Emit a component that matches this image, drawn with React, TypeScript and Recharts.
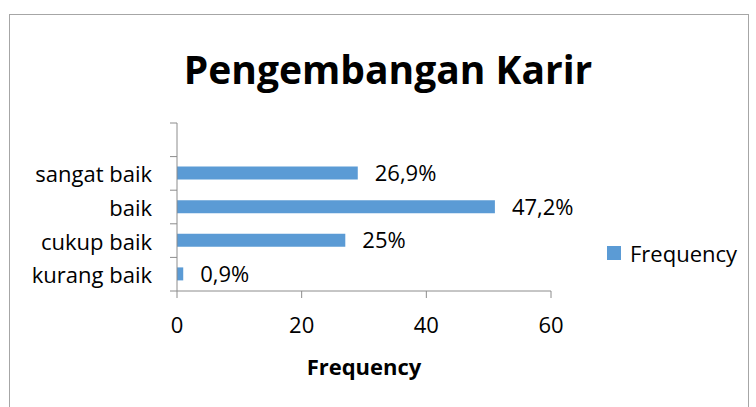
import React from 'react';
import { BarChart, Bar, XAxis, YAxis, LabelList } from 'recharts';

const categories = ['', 'sangat baik', 'baik', 'cukup baik', 'kurang baik'];
const frequency = [null, 29, 51, 27, 1];
const percentLabels = ['', '26,9%', '47,2%', '25%', '0,9%'];
const xTicks = [0, 20, 40, 60];

const FONT = "'Open Sans', sans-serif";
const AXIS_COLOR = '#8C8C8C';
const BAR_COLOR = '#5B9BD5';

// plot area (Excel-like placement)
const AXIS_X = 177;
const PLOT_TOP = 123;
const PLOT_BOTTOM = 291;

const data = categories.map((c, i) => ({
  name: c,
  value: frequency[i],
  label: percentLabels[i],
}));

const CategoryTick = ({ y, payload, index }: any) => {
  const band = (PLOT_BOTTOM - PLOT_TOP) / categories.length;
  return (
    <g>
      <line x1={AXIS_X - 7} x2={AXIS_X} y1={y - band / 2} y2={y - band / 2} stroke={AXIS_COLOR} />
      {index === categories.length - 1 && (
        <line x1={AXIS_X - 7} x2={AXIS_X} y1={y + band / 2} y2={y + band / 2} stroke={AXIS_COLOR} />
      )}
      <text x={AXIS_X - 25} y={y} textAnchor="end" dominantBaseline="central"
        fontSize={22} fill="#000" fontFamily={FONT}>
        {payload.value}
      </text>
    </g>
  );
};

export default function App() {
  return (
    <div style={{ position: 'absolute', left: 0, top: 0, width: 756, height: 407, overflow: 'hidden', background: '#fff' }}>
      <div style={{ position: 'absolute', left: 9, top: 14, width: 738, height: 420, border: '1px solid #A6A6A6' }} />
      <div style={{
        position: 'absolute', left: 0, width: 776, top: 42, textAlign: 'center',
        fontFamily: FONT, fontWeight: 700, fontSize: 39, color: '#000', lineHeight: '54px',
      }}>
        Pengembangan Karir
      </div>
      <div style={{ position: 'absolute', left: 0, top: 0 }}>
        <BarChart width={756} height={407} data={data} layout="vertical"
          margin={{ top: PLOT_TOP, right: 756 - 551, bottom: 32, left: 0 }}>
          <XAxis type="number" domain={[0, 60]} ticks={xTicks} interval={0}
            height={84} tickSize={7} tickMargin={19}
            stroke={AXIS_COLOR}
            tick={{ fill: '#000', fontSize: 22, fontFamily: FONT }}
            label={{ value: 'Frequency', position: 'insideBottom', offset: 0, fill: '#000', fontSize: 22, fontWeight: 700, fontFamily: FONT }} />
          <YAxis type="category" dataKey="name" width={AXIS_X} interval={0}
            stroke={AXIS_COLOR} tickLine={false} tick={<CategoryTick />} />
          <Bar dataKey="value" name="Frequency" fill={BAR_COLOR} barSize={13} isAnimationActive={false}>
            <LabelList dataKey="label" position="right" offset={17}
              style={{ fill: '#000', fontSize: 22, fontFamily: FONT }} />
          </Bar>
        </BarChart>
      </div>
      <div style={{
        position: 'absolute', left: 607, top: 238, display: 'flex', alignItems: 'center',
        fontFamily: FONT, fontSize: 22, color: '#000', lineHeight: '30px',
      }}>
        <span style={{ width: 14, height: 14, background: BAR_COLOR, display: 'inline-block', marginRight: 9 }} />
        Frequency
      </div>
    </div>
  );
}
